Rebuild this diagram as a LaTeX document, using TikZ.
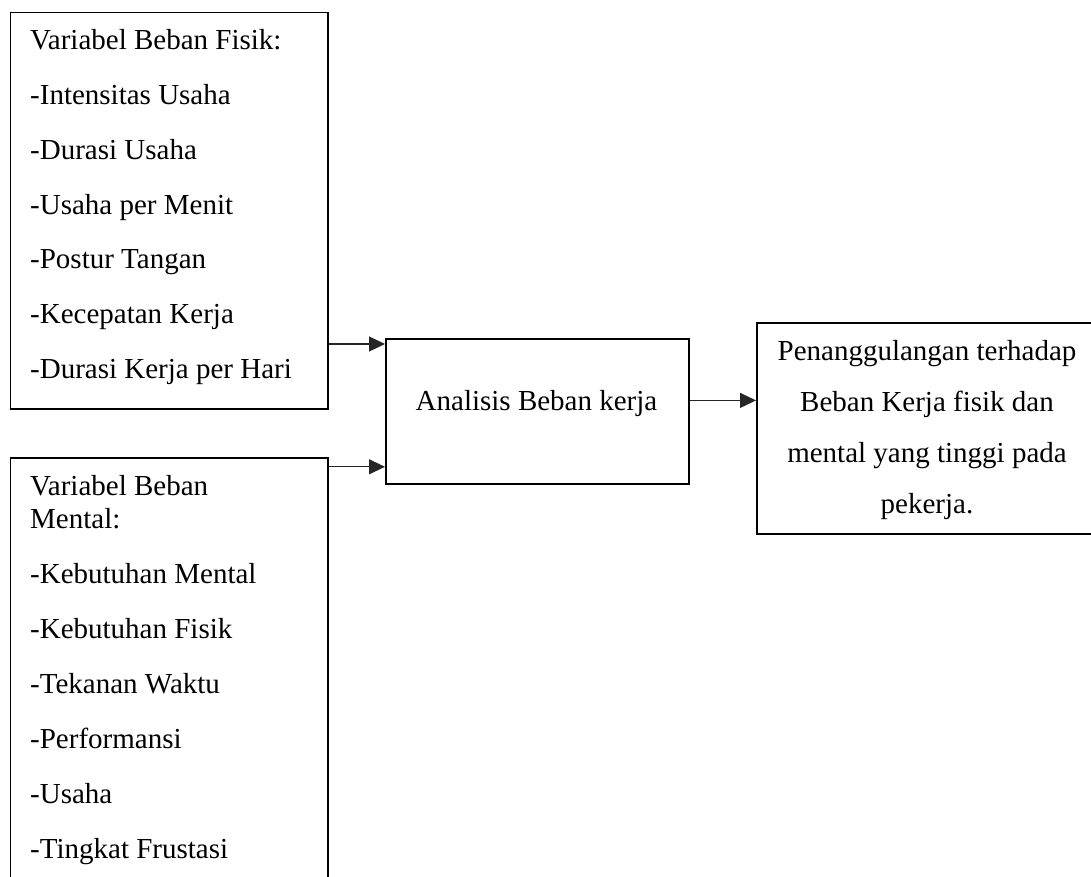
\documentclass[tikz,border=0pt]{standalone}
\usepackage{fontspec}
\setmainfont{Liberation Serif}
\usetikzlibrary{arrows.meta,positioning,calc}
\tikzset{
  kotak/.style={draw,line width=1.8pt,rectangle,inner sep=0pt,anchor=north west},
  teks/.style={inner sep=0pt,font=\fontsize{29}{34}\selectfont},
  panah/.style={-{Triangle[length=16pt,width=15pt]},line width=1.2pt,draw=black!85},
}

\begin{document}
\begin{tikzpicture}[x=1pt,y=-1pt]
\useasboundingbox (0,0) rectangle (1091,877);
\clip (0,0) rectangle (1091,877);

% kotak
\node[kotak, minimum width=317.5pt, minimum height=396.3pt] (fisik) at (9.5,11.7) {};
\node[kotak, minimum width=317.5pt, minimum height=440pt] (mental) at (9.5,457) {};
\node[kotak, minimum width=303pt, minimum height=145pt] (analisis) at (385,338) {};
\node[kotak, minimum width=342pt, minimum height=211pt] (tindakan) at (756,322) {};

% teks beban fisik
\node[teks, anchor=base west] (f0) at (30,50) {Variabel Beban Fisik:};
\foreach \t [count=\i] in {-Intensitas Usaha,-Durasi Usaha,-Usaha per Menit,-Postur Tangan,-Kecepatan Kerja,-Durasi Kerja per Hari}
  \node[teks, anchor=base west] (f\i) at (30,{50+\i*54.7}) {\t};

% teks beban mental
\node[teks, anchor=base west] (m0) at (30,495) {Variabel Beban};
\node[teks, anchor=base west] (m00) at (30,528) {Mental:};
\foreach \t [count=\i] in {-Kebutuhan Mental,-Kebutuhan Fisik,-Tekanan Waktu,-Performansi,-Usaha,-Tingkat Frustasi}
  \node[teks, anchor=base west] (m\i) at (30,{528+\i*55}) {\t};

\node[teks, anchor=base] (ta) at (536.5,410) {Analisis Beban kerja};

\foreach \t [count=\i] in {Penanggulangan terhadap,Beban Kerja fisik dan,mental yang tinggi pada,pekerja.}
  \node[teks, anchor=base] (p\i) at (927,{309+\i*51}) {\t};

% panah
\coordinate (a1) at ([yshift=-6pt]analisis.north west);
\coordinate (a2) at ([yshift=18pt]analisis.south west);
\coordinate (a3) at ([yshift=11pt]analisis.east);
\draw[panah] (fisik.east |- a1) -- (a1);
\draw[panah] (mental.east |- a2) -- (a2);
\draw[panah] (a3) -- (a3 -| tindakan.west);
\end{tikzpicture}
\end{document}
